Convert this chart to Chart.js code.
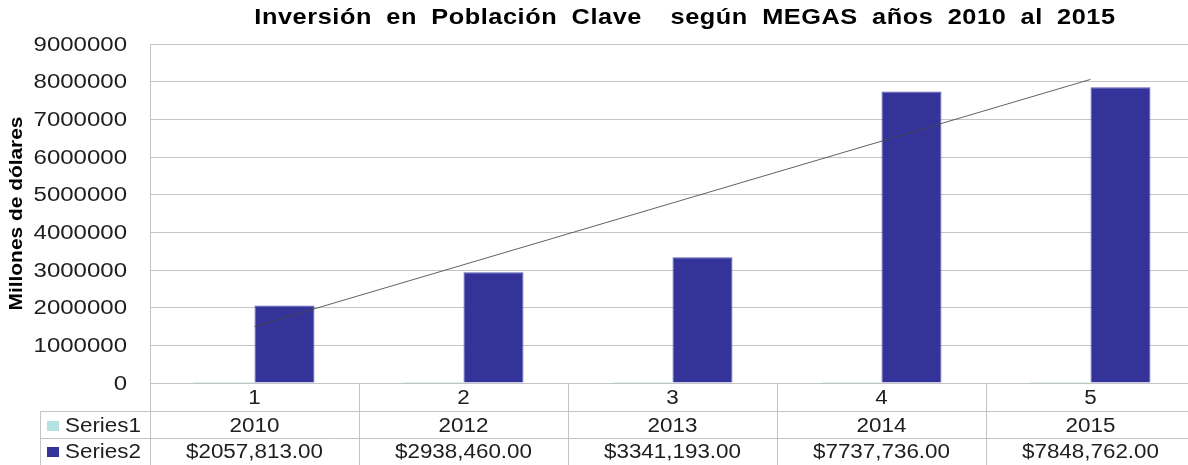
<!DOCTYPE html>
<html><head><meta charset="utf-8">
<script src="https://cdn.jsdelivr.net/npm/chart.js@4.4.1/dist/chart.umd.min.js"></script>
<style>
html,body{margin:0;padding:0;overflow:hidden;background:#fff;width:1188px;height:465px}
#wrap{position:relative;width:1200px;height:465px}
</style></head>
<body><div id="wrap"><canvas id="c"></canvas></div>
<script>
// ---- data ----
const categories = ['1', '2', '3', '4', '5'];
const series1Years = [2010, 2012, 2013, 2014, 2015];
const series2Values = [2057813, 2938460, 3341193, 7737736, 7848762];
const series2Labels = ['$2057,813.00', '$2938,460.00', '$3341,193.00', '$7737,736.00', '$7848,762.00'];
const trendValues = [1500000, null, null, null, 8060000];
const yTickValues = [0, 1000000, 2000000, 3000000, 4000000, 5000000, 6000000, 7000000, 8000000, 9000000];
const titleText = 'Inversión en Población Clave  según MEGAS años 2010 al 2015';
const yTitleText = 'Millones de dólares';
const rowNames = ['Series1', 'Series2'];

const S1_COLOR = '#b6e1e2';
const S2_COLOR = '#333399';
const GRID = '#c4c4c4';
const TXT = '#1e1e1e';
const FONT = '"Liberation Sans", Arial, sans-serif';
const SX = 1.12;

function txt(ctx, s, x, y, font, align, color, sx, rot, ls, ws) {
  ctx.save();
  ctx.font = font; ctx.fillStyle = color; ctx.textAlign = align; ctx.textBaseline = 'middle';
  if (ls) ctx.letterSpacing = ls;
  if (ws) ctx.wordSpacing = ws;
  ctx.translate(x, y);
  if (rot) ctx.rotate(rot);
  ctx.scale(sx, 1);
  ctx.fillText(s, 0, 0);
  ctx.restore();
}

const decor = {
  id: 'decor',
  afterDraw(chart) {
    const ctx = chart.ctx;
    const xs = chart.scales.x, ys = chart.scales.y;
    const ca = chart.chartArea;
    const half = (xs.getPixelForValue(1) - xs.getPixelForValue(0)) / 2;
    const rowTop = 411.5, rowMid = 438.5, rowBot = 466;
    // title
    txt(ctx, titleText, 685, 18, 'bold 22px ' + FONT, 'center', '#000', 1.15, 0, '0.5px', '5.8px');
    // y ticks
    yTickValues.forEach(v => txt(ctx, String(v), 127, ys.getPixelForValue(v) + 1, '20px ' + FONT, 'right', TXT, 1.2));
    // y title
    txt(ctx, yTitleText, 17, (ca.top + ca.bottom) / 2, 'bold 19px ' + FONT, 'center', '#000', 1.1, -Math.PI / 2);
    // lines
    ctx.save();
    ctx.strokeStyle = GRID; ctx.lineWidth = 1;
    ctx.beginPath();
    ctx.moveTo(Math.round(ca.left) + 0.5, ca.top); ctx.lineTo(Math.round(ca.left) + 0.5, rowBot);
    for (let i = 0; i < categories.length; i++) {
      const bx = Math.round(xs.getPixelForValue(i) + half) + 0.5;
      ctx.moveTo(bx, ca.bottom); ctx.lineTo(bx, rowBot);
    }
    ctx.moveTo(40.5, rowTop); ctx.lineTo(40.5, rowBot);
    ctx.moveTo(40.5, rowTop); ctx.lineTo(1200, rowTop);
    ctx.moveTo(40.5, rowMid); ctx.lineTo(1200, rowMid);
    ctx.stroke();
    ctx.restore();
    // x tick labels
    categories.forEach((c, i) => txt(ctx, c, xs.getPixelForValue(i), 398, '20px ' + FONT, 'center', TXT, SX));
    // legend squares
    ctx.fillStyle = S1_COLOR; ctx.fillRect(47, 421, 12, 10);
    ctx.fillStyle = S2_COLOR; ctx.fillRect(47, 447, 12, 10);
    txt(ctx, rowNames[0], 65, 426, '20px ' + FONT, 'left', TXT, SX);
    txt(ctx, rowNames[1], 65, 452, '20px ' + FONT, 'left', TXT, SX);
    // table values
    series1Years.forEach((v, i) => txt(ctx, String(v), xs.getPixelForValue(i), 426, '20px ' + FONT, 'center', TXT, SX));
    series2Labels.forEach((v, i) => txt(ctx, v, xs.getPixelForValue(i), 452, '20px ' + FONT, 'center', TXT, SX));
  }
};

new Chart(document.getElementById('c'), {
  data: {
    labels: categories,
    datasets: [
      { type: 'line', label: 'Trend', data: trendValues, spanGaps: true, borderColor: 'rgba(70,70,70,0.85)', borderWidth: 1, pointRadius: 0, order: 0, fill: false, tension: 0 },
      { type: 'bar', label: rowNames[0], data: series1Years, backgroundColor: S1_COLOR, order: 1, categoryPercentage: 0.574, barPercentage: 1 },
      { type: 'bar', label: rowNames[1], data: series2Values, backgroundColor: S2_COLOR, borderColor: '#5a5ab4', borderWidth: 1, order: 2, categoryPercentage: 0.574, barPercentage: 1 }
    ]
  },
  options: {
    responsive: true, maintainAspectRatio: false, animation: false, devicePixelRatio: 1,
    layout: { padding: { left: 0, right: 5, top: 44, bottom: 82 } },
    plugins: { legend: { display: false }, title: { display: false }, tooltip: { enabled: false } },
    scales: {
      x: { display: false, offset: true },
      y: {
        min: 0, max: 9000000,
        ticks: { display: false, stepSize: 1000000 },
        grid: { color: GRID, drawTicks: false, lineWidth: 1 },
        border: { display: true, color: GRID },
        afterFit(s) { s.width = 150; }
      }
    }
  },
  plugins: [decor]
});
</script>
</body></html>
